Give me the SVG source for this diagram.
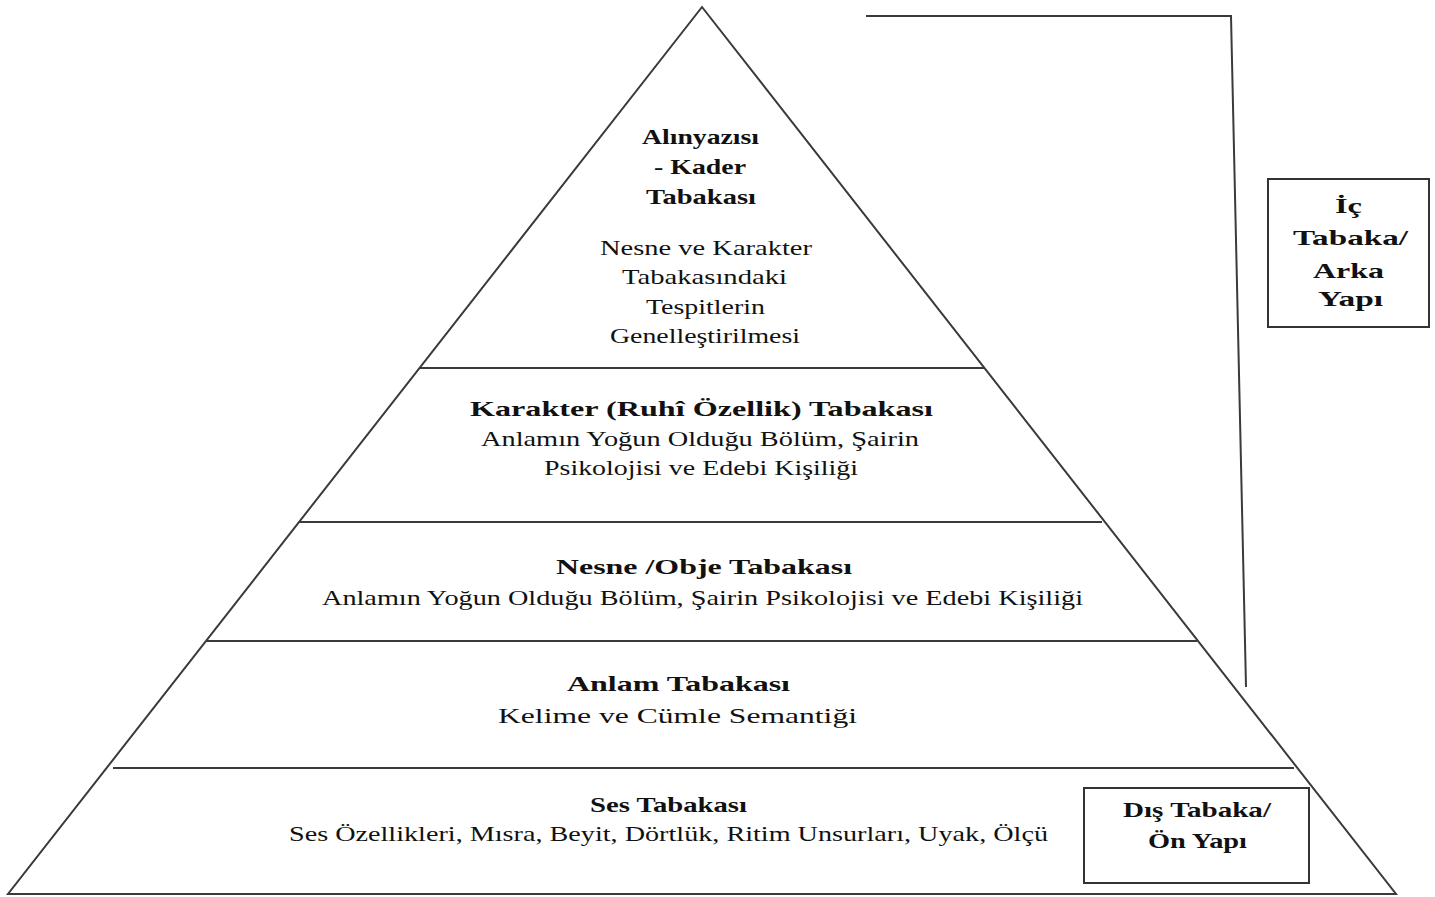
<svg xmlns="http://www.w3.org/2000/svg" width="1435" height="897" viewBox="0 0 1435 897">
<style>
.ln{stroke:#3a3a3a;stroke-width:2;fill:none}
.bx{stroke:#333;stroke-width:2;fill:#fff}
text{font-family:"Liberation Serif","Times New Roman",serif;fill:#111;font-size:22px}
.b{font-weight:bold}
</style>
<rect width="1435" height="897" fill="#fff"/>
<g id="pyramid">
<polygon class="ln" points="702,7 8,894 1396,894"/>
</g>
<g id="connectors">
<line class="ln" x1="420" y1="368" x2="984" y2="368"/>
<line class="ln" x1="299" y1="522" x2="1102" y2="522"/>
<line class="ln" x1="206" y1="641" x2="1197" y2="641"/>
<line class="ln" x1="113" y1="768" x2="1294" y2="768"/>
<polyline class="ln" points="866,16 1231,16 1246,687"/>
</g>
<g id="layer-kader">
<text class="b" x="642" y="144" textLength="117" lengthAdjust="spacingAndGlyphs">Alınyazısı</text>
<text class="b" x="654" y="174" textLength="92" lengthAdjust="spacingAndGlyphs">- Kader</text>
<text class="b" x="646" y="204" textLength="110" lengthAdjust="spacingAndGlyphs">Tabakası</text>
<text x="600" y="255" textLength="212" lengthAdjust="spacingAndGlyphs">Nesne ve Karakter</text>
<text x="622" y="284" textLength="165" lengthAdjust="spacingAndGlyphs">Tabakasındaki</text>
<text x="646" y="314" textLength="119" lengthAdjust="spacingAndGlyphs">Tespitlerin</text>
<text x="610" y="343" textLength="190" lengthAdjust="spacingAndGlyphs">Genelleştirilmesi</text>
</g>
<g id="layer-karakter">
<text class="b" x="470" y="416" font-size="23" textLength="463" lengthAdjust="spacingAndGlyphs">Karakter (Ruhî Özellik) Tabakası</text>
<text x="481" y="446" textLength="438" lengthAdjust="spacingAndGlyphs">Anlamın Yoğun Olduğu Bölüm, Şairin</text>
<text x="544" y="475" textLength="314" lengthAdjust="spacingAndGlyphs">Psikolojisi ve Edebi Kişiliği</text>
</g>
<g id="layer-nesne">
<text class="b" x="556" y="574" font-size="23" textLength="296" lengthAdjust="spacingAndGlyphs">Nesne /Obje Tabakası</text>
<text x="322" y="605" textLength="761" lengthAdjust="spacingAndGlyphs">Anlamın Yoğun Olduğu Bölüm, Şairin Psikolojisi ve Edebi Kişiliği</text>
</g>
<g id="layer-anlam">
<text class="b" x="567" y="691" font-size="23" textLength="223" lengthAdjust="spacingAndGlyphs">Anlam Tabakası</text>
<text x="498" y="723" font-size="23" textLength="359" lengthAdjust="spacingAndGlyphs">Kelime ve Cümle Semantiği</text>
</g>
<g id="layer-ses">
<text class="b" x="590" y="812" font-size="20" textLength="157" lengthAdjust="spacingAndGlyphs">Ses Tabakası</text>
<text x="289" y="841" textLength="759" lengthAdjust="spacingAndGlyphs">Ses Özellikleri, Mısra, Beyit, Dörtlük, Ritim Unsurları, Uyak, Ölçü</text>
</g>
<g id="box-ic">
<rect class="bx" x="1268" y="179" width="161" height="148"/>
<text class="b" x="1335" y="213" textLength="27" lengthAdjust="spacingAndGlyphs">İç</text>
<text class="b" x="1293" y="245" textLength="115" lengthAdjust="spacingAndGlyphs">Tabaka/</text>
<text class="b" x="1313" y="278" textLength="71" lengthAdjust="spacingAndGlyphs">Arka</text>
<text class="b" x="1318" y="306" textLength="65" lengthAdjust="spacingAndGlyphs">Yapı</text>
</g>
<g id="box-dis">
<rect class="bx" x="1084" y="788" width="225" height="95"/>
<text class="b" x="1123" y="817" textLength="148" lengthAdjust="spacingAndGlyphs">Dış Tabaka/</text>
<text class="b" x="1148" y="848" textLength="99" lengthAdjust="spacingAndGlyphs">Ön Yapı</text>
</g>
</svg>
